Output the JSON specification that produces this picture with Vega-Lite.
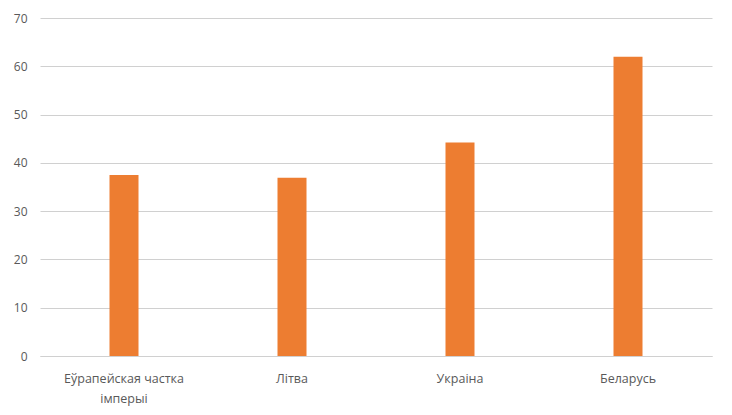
{
  "$schema": "https://vega.github.io/schema/vega-lite/v6.json",
  "width": 672,
  "height": 338,
  "autosize": "none",
  "padding": {"left": 40, "top": 18, "right": 20, "bottom": 59},
  "background": "white",
  "config": {
    "view": {"stroke": null},
    "font": "Open Sans"
  },
  "data": {
    "values": [
      {"region": "Еўрапейская частка імперыі", "value": 37.5},
      {"region": "Літва", "value": 36.9},
      {"region": "Украіна", "value": 44.2},
      {"region": "Беларусь", "value": 62.0}
    ]
  },
  "mark": {"type": "bar", "size": 29, "color": "#ED7D31"},
  "encoding": {
    "x": {
      "field": "region",
      "type": "nominal",
      "sort": null,
      "scale": {"paddingInner": 0, "paddingOuter": 0},
      "axis": {
        "title": null,
        "labelAngle": 0,
        "ticks": false,
        "domainColor": "#d0d0d0",
        "labelColor": "#595959",
        "labelFontSize": 12.5,
        "labelPadding": 16,
        "labelLineHeight": 20,
        "labelExpr": "datum.label == 'Еўрапейская частка імперыі' ? ['Еўрапейская частка', 'імперыі'] : datum.label"
      }
    },
    "y": {
      "field": "value",
      "type": "quantitative",
      "scale": {"domain": [0, 70]},
      "axis": {
        "title": null,
        "values": [0, 10, 20, 30, 40, 50, 60, 70],
        "domain": false,
        "ticks": false,
        "gridColor": "#d0d0d0",
        "labelColor": "#595959",
        "labelFontSize": 12,
        "labelPadding": 13
      }
    }
  }
}
